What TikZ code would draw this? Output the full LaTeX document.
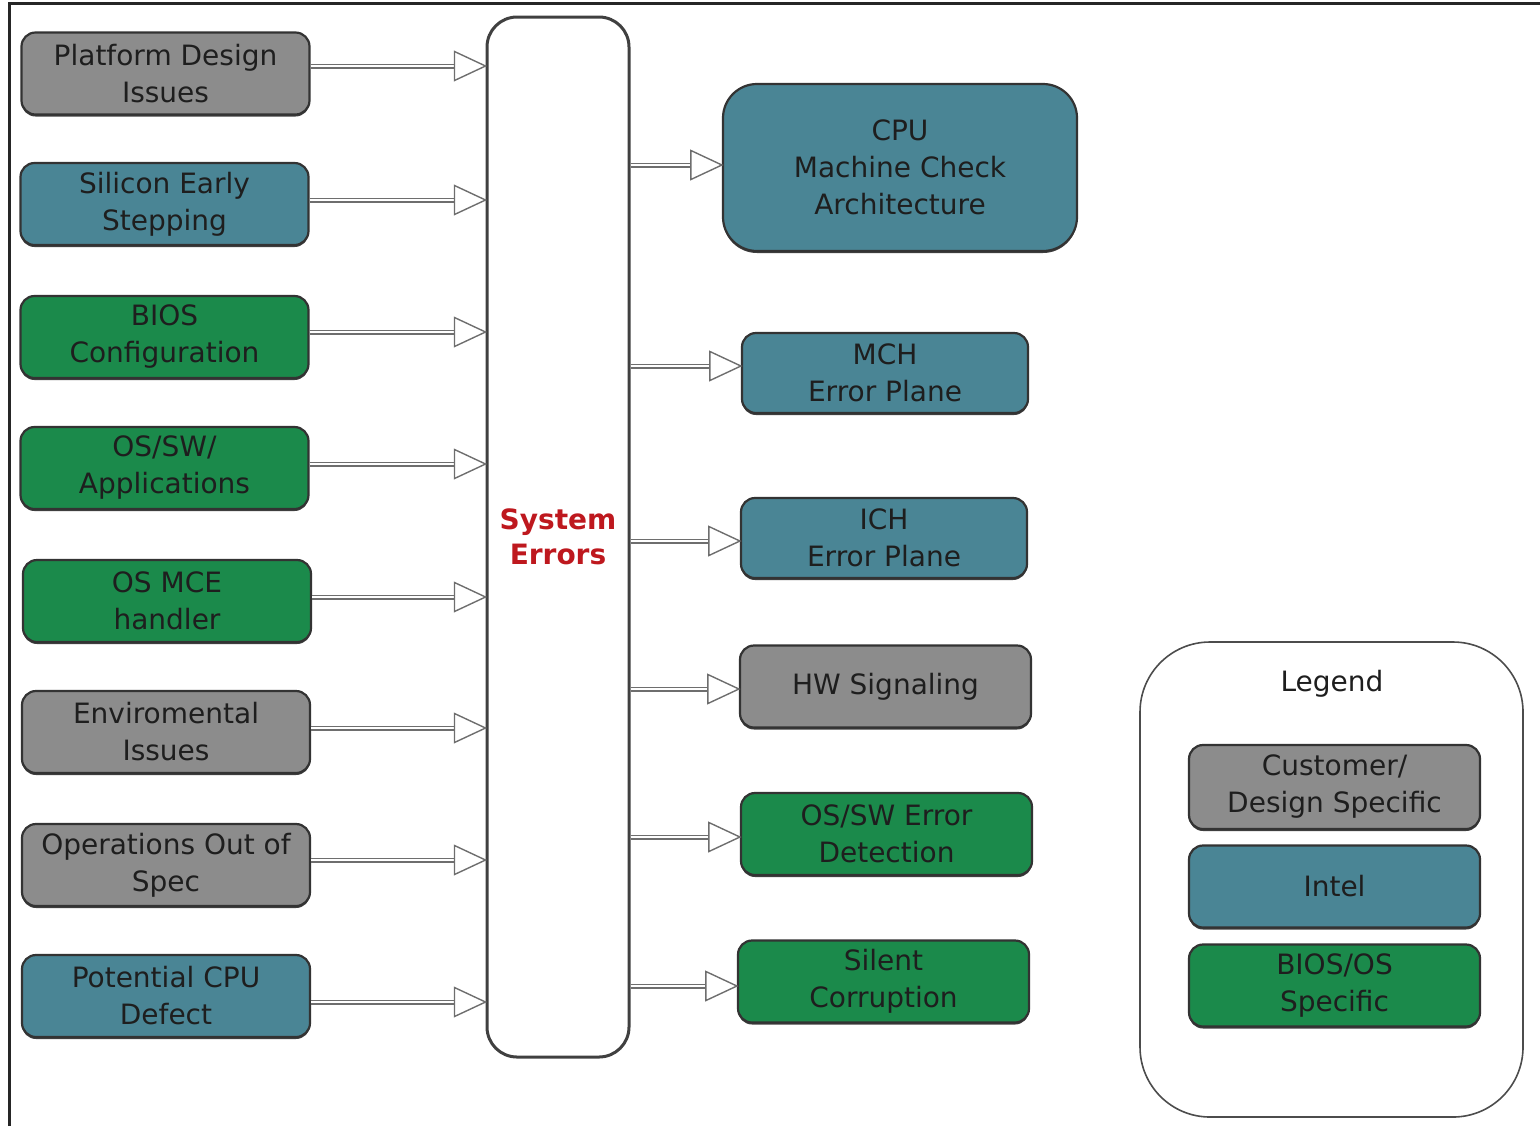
\documentclass[tikz,border=0pt]{standalone}
\usepackage{fontspec}
\setmainfont{DejaVu Sans}
\usetikzlibrary{positioning}
\definecolor{cgray}{RGB}{140,140,140}
\definecolor{cteal}{RGB}{74,133,149}
\definecolor{cgreen}{RGB}{27,138,75}
\definecolor{ctext}{RGB}{30,30,30}
\definecolor{cred}{RGB}{190,24,30}
\definecolor{cline}{RGB}{110,110,110}
\tikzset{
  btn/.style={rectangle, rounded corners=7pt, fill=#1, draw=black!80, line width=1.1pt,
    preaction={fill=black!75, transform canvas={yshift=-1pt}},
    minimum width=144pt, minimum height=41pt, inner sep=0pt, align=center,
    text=ctext, font=\fontsize{14pt}{18.5pt}\selectfont},
  shaft/.style={draw=cline, line width=0.7pt, double=white, double distance=1.1pt},
  headtri/.style={draw=cline, fill=white, line width=0.7pt, line join=miter},
  sysbox/.style={rectangle, rounded corners=15pt, draw=black!75, line width=1.5pt, fill=white,
    minimum width=71pt, minimum height=520pt, align=center, text=cred,
    font=\fontsize{14pt}{17.5pt}\selectfont\bfseries},
  legbox/.style={rectangle, rounded corners=35pt, draw=black!70, line width=0.8pt,
    minimum width=191.5pt, minimum height=237.5pt},
  lbl/.style={text=ctext, font=\fontsize{14pt}{18.5pt}\selectfont}
}
\newcommand\lconn[3]{%
  \coordinate (#1s) at ([yshift=#3]#1.east);
  \coordinate (#1t) at (#1s -| #2.west);
  \draw[shaft] (#1s) -- ([xshift=-15.5pt]#1t);
  \draw[headtri] (#1t) -- ++(-15.5pt,7.25pt) -- ++(0,-14.5pt) -- cycle;}
\newcommand\rconn[3]{%
  \coordinate (#2t) at ([yshift=#3]#2.west);
  \coordinate (#2s) at (#2t -| #1.east);
  \draw[shaft] (#2s) -- ([xshift=-15.5pt]#2t);
  \draw[headtri] (#2t) -- ++(-15.5pt,7.25pt) -- ++(0,-14.5pt) -- cycle;}
\begin{document}
\begin{tikzpicture}[x=0.5pt,y=-0.5pt]
\useasboundingbox (0,0) rectangle (1540,1126);
\coordinate (fbl) at (9,1126);
\coordinate (ftl) at (9,3);
\coordinate (ftr) at (1540,3);
\draw[black!85, line width=1.5pt] (fbl) -- (ftl) -- (ftr);

% central box
\node[sysbox] (se) at (558,537) {System\\Errors};

% left column
\node[btn=cgray]  (pdi)   at (165.5,73.5) {Platform Design\\Issues};
\node[btn=cteal]  (ses)   at (164.5,204)  {Silicon Early\\Stepping};
\node[btn=cgreen] (bios)  at (164.5,337)  {BIOS\\Configuration};
\node[btn=cgreen] (ossw)  at (164.5,468)  {OS/SW/\\Applications};
\node[btn=cgreen] (osmce) at (167,601)    {OS MCE\\handler};
\node[btn=cgray]  (env)   at (166,732)    {Enviromental\\Issues};
\node[btn=cgray]  (ops)   at (166,865)    {Operations Out of\\Spec};
\node[btn=cteal]  (pcd)   at (166,996)    {Potential CPU\\Defect};

% right column
\node[btn=cteal, rounded corners=17pt, minimum width=177pt, minimum height=83.5pt] (cpu) at (900,167.5) {CPU\\Machine Check\\Architecture};
\node[btn=cteal, minimum width=143pt, minimum height=40pt] (mch) at (885,373) {MCH\\Error Plane};
\node[btn=cteal, minimum width=143pt, minimum height=40pt] (ich) at (884,538) {ICH\\Error Plane};
\node[btn=cgray, minimum width=145.5pt] (hw)  at (885.5,686.5) {HW Signaling};
\node[btn=cgreen, minimum width=145.5pt] (osd) at (886.5,834) {OS/SW Error\\Detection};
\node[btn=cgreen, minimum width=145.5pt] (sc)  at (883.5,981.5) {Silent\\Corruption};

% left connectors
\lconn{pdi}{se}{3.75pt}
\lconn{ses}{se}{2pt}
\lconn{bios}{se}{2.5pt}
\lconn{ossw}{se}{2pt}
\lconn{osmce}{se}{2pt}
\lconn{env}{se}{2pt}
\lconn{ops}{se}{2.5pt}
\lconn{pcd}{se}{-3pt}

% right connectors
\rconn{se}{cpu}{1.25pt}
\rconn{se}{mch}{3.5pt}
\rconn{se}{ich}{-1.5pt}
\rconn{se}{hw}{-1.25pt}
\rconn{se}{osd}{-1.5pt}
\rconn{se}{sc}{-2.25pt}

% legend
\node[legbox] (leg) at (1331.5,879.5) {};
\node[lbl] (legt) at (1332,684) {Legend};
\node[btn=cgray, minimum width=145.5pt, minimum height=42pt] (lc) at (1334.5,787) {Customer/\\Design Specific};
\node[btn=cteal, minimum width=145.5pt] (li) at (1334.5,886.5) {Intel};
\node[btn=cgreen, minimum width=145.5pt] (lb) at (1334.5,985.5) {BIOS/OS\\Specific};
\end{tikzpicture}
\end{document}
